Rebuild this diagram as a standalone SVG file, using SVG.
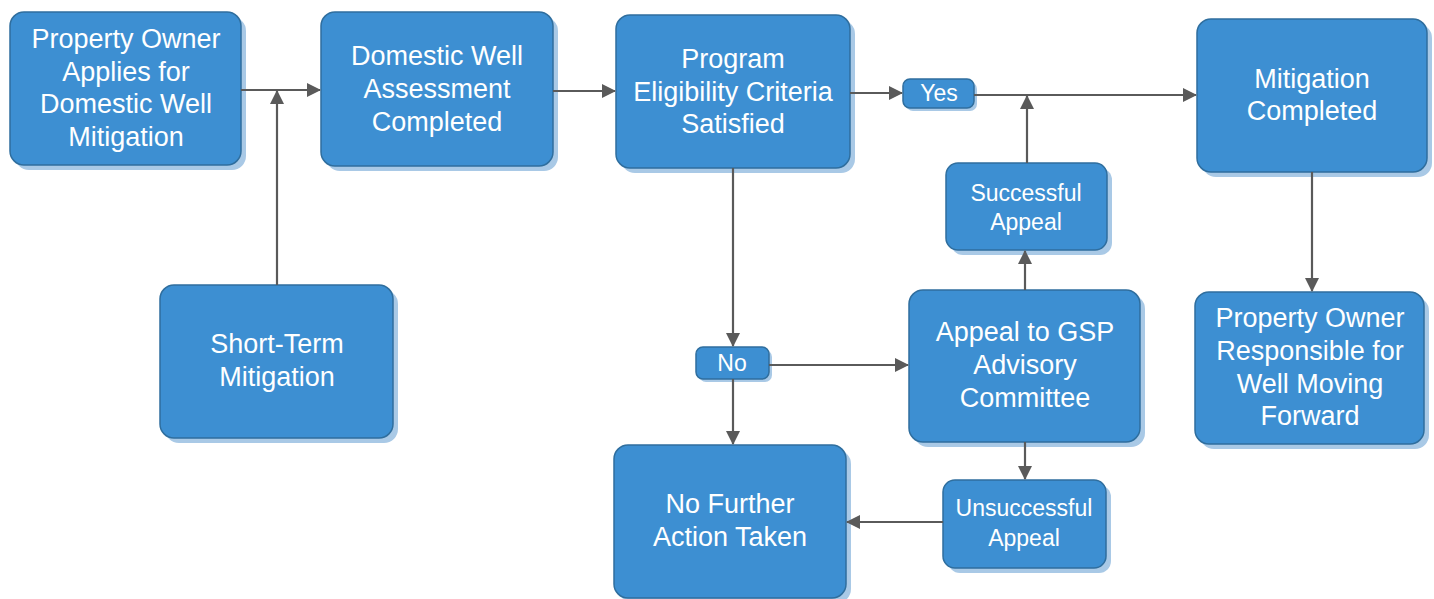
<svg xmlns="http://www.w3.org/2000/svg" width="1434" height="599" viewBox="0 0 1434 599">
<style>
.box{fill:#3d8fd2;stroke:#2f6e9e;stroke-width:1.5}
.sh{fill:#a9c9e6}
.t{font-family:"Liberation Sans",Arial,sans-serif;font-size:27px;fill:#ffffff;text-anchor:middle}
.s{font-size:23px}
.c{stroke:#5a5a5a;stroke-width:2.2;fill:none}
</style>
<defs>
<marker id="ah" markerWidth="14" markerHeight="14" refX="13" refY="7" orient="auto" markerUnits="userSpaceOnUse" viewBox="0 0 14 14">
<path d="M0,0 L14,7 L0,14 Z" fill="#5a5a5a"/>
</marker>
</defs>
<g id="n1"><rect class="sh" x="15" y="17" width="231" height="153" rx="14"/><rect class="box" x="10" y="12" width="231" height="153" rx="14"/>
<text class="t" x="126" y="48">Property Owner</text><text class="t" x="126" y="81">Applies for</text><text class="t" x="126" y="113">Domestic Well</text><text class="t" x="126" y="146">Mitigation</text></g>
<g id="n2"><rect class="sh" x="326" y="17" width="232" height="154" rx="14"/><rect class="box" x="321" y="12" width="232" height="154" rx="14"/>
<text class="t" x="437" y="65">Domestic Well</text><text class="t" x="437" y="98">Assessment</text><text class="t" x="437" y="131">Completed</text></g>
<g id="n3"><rect class="sh" x="621" y="20" width="234" height="153" rx="14"/><rect class="box" x="616" y="15" width="234" height="153" rx="14"/>
<text class="t" x="733" y="68">Program</text><text class="t" x="733" y="101">Eligibility Criteria</text><text class="t" x="733" y="133">Satisfied</text></g>
<g id="n4"><rect class="sh" x="1202" y="24" width="230" height="153" rx="14"/><rect class="box" x="1197" y="19" width="230" height="153" rx="14"/>
<text class="t" x="1312" y="88">Mitigation</text><text class="t" x="1312" y="120">Completed</text></g>
<g id="n5"><rect class="sh" x="165" y="290" width="233" height="153" rx="14"/><rect class="box" x="160" y="285" width="233" height="153" rx="14"/>
<text class="t" x="277" y="353">Short-Term</text><text class="t" x="277" y="386">Mitigation</text></g>
<g id="n6"><rect class="sh" x="951" y="168" width="161" height="87" rx="12"/><rect class="box" x="946" y="163" width="161" height="87" rx="12"/>
<text class="t s" x="1026" y="201">Successful</text><text class="t s" x="1026" y="230">Appeal</text></g>
<g id="n7"><rect class="sh" x="914" y="295" width="231" height="152" rx="14"/><rect class="box" x="909" y="290" width="231" height="152" rx="14"/>
<text class="t" x="1025" y="341">Appeal to GSP</text><text class="t" x="1025" y="374">Advisory</text><text class="t" x="1025" y="407">Committee</text></g>
<g id="n8"><rect class="sh" x="1200" y="297" width="229" height="152" rx="14"/><rect class="box" x="1195" y="292" width="229" height="152" rx="14"/>
<text class="t" x="1310" y="327">Property Owner</text><text class="t" x="1310" y="360">Responsible for</text><text class="t" x="1310" y="393">Well Moving</text><text class="t" x="1310" y="425">Forward</text></g>
<g id="n9"><rect class="sh" x="619" y="450" width="232" height="153" rx="14"/><rect class="box" x="614" y="445" width="232" height="153" rx="14"/>
<text class="t" x="730" y="513">No Further</text><text class="t" x="730" y="546">Action Taken</text></g>
<g id="n10"><rect class="sh" x="948" y="485" width="163" height="88" rx="12"/><rect class="box" x="943" y="480" width="163" height="88" rx="12"/>
<text class="t s" x="1024" y="516">Unsuccessful</text><text class="t s" x="1024" y="546">Appeal</text></g>
<g id="yes"><rect class="sh" x="906" y="82" width="71" height="29" rx="7"/><rect class="box" x="903" y="79" width="71" height="29" rx="7"/>
<text class="t s" x="939" y="101">Yes</text></g>
<g id="no"><rect class="sh" x="699" y="350" width="73" height="32" rx="7"/><rect class="box" x="696" y="347" width="73" height="32" rx="7"/>
<text class="t s" x="732" y="371">No</text></g>
<g id="connectors">
<path class="c" d="M241,90 H320" marker-end="url(#ah)"/>
<path class="c" d="M277,285 V91" marker-end="url(#ah)"/>
<path class="c" d="M553,91 H615" marker-end="url(#ah)"/>
<path class="c" d="M850,93 H902" marker-end="url(#ah)"/>
<path class="c" d="M974,95 H1196" marker-end="url(#ah)"/>
<path class="c" d="M1027,163 V96" marker-end="url(#ah)"/>
<path class="c" d="M733,168 V346" marker-end="url(#ah)"/>
<path class="c" d="M733,379 V444" marker-end="url(#ah)"/>
<path class="c" d="M769,365 H908" marker-end="url(#ah)"/>
<path class="c" d="M1025,290 V251" marker-end="url(#ah)"/>
<path class="c" d="M1025,442 V479" marker-end="url(#ah)"/>
<path class="c" d="M943,522 H847" marker-end="url(#ah)"/>
<path class="c" d="M1312,172 V291" marker-end="url(#ah)"/>
</g>
</svg>
